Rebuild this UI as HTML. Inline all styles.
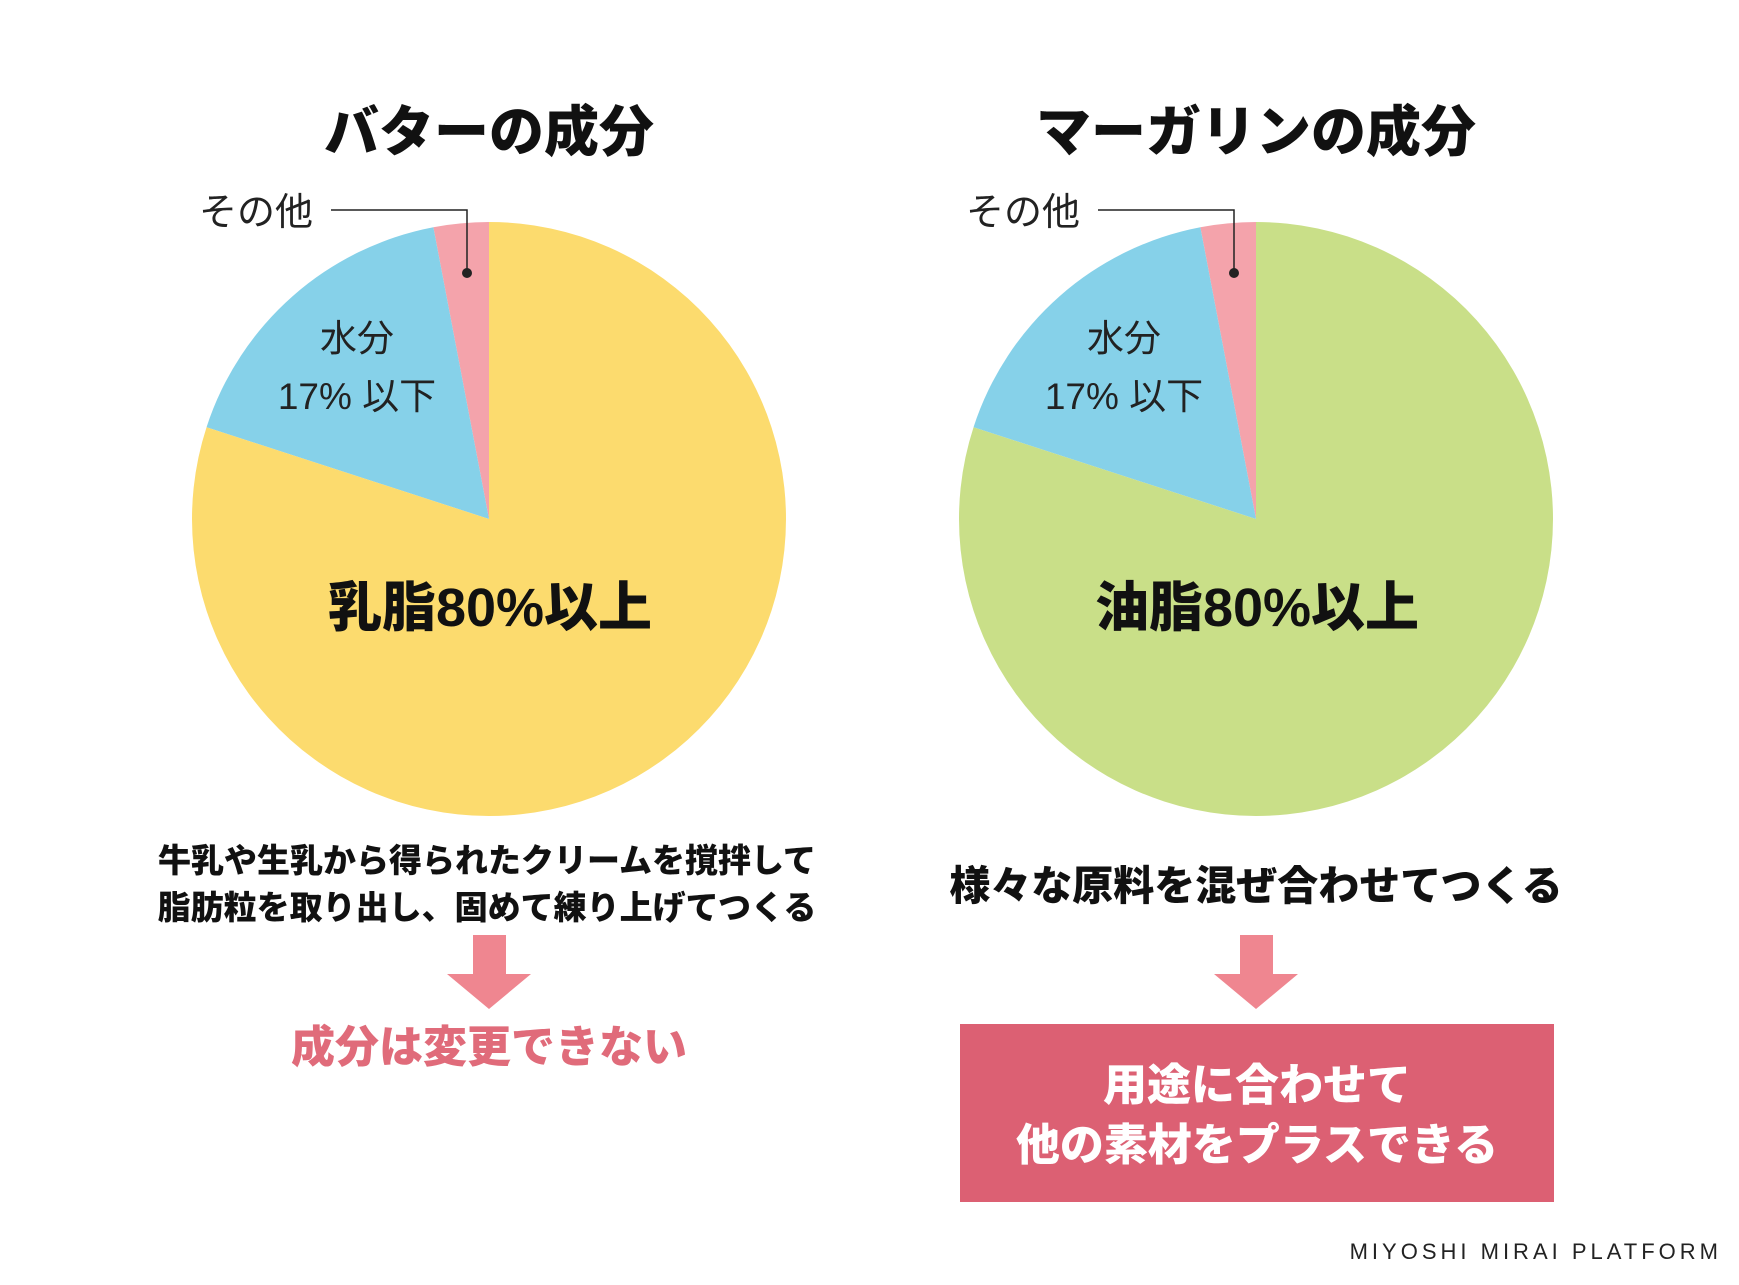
<!DOCTYPE html>
<html><head><meta charset="utf-8"><style>
body{margin:0;background:#fff;}
svg text{font-family:"Liberation Sans","Noto Sans CJK JP",sans-serif;}
</style></head><body>
<svg width="1739" height="1280" viewBox="0 0 1739 1280">
<g id="pies"></g>
<text x="489" y="151" text-anchor="middle" font-size="55" font-weight="900" fill="#111">バターの成分</text>
<text x="1256" y="151" text-anchor="middle" font-size="55" font-weight="900" fill="#111">マーガリンの成分</text>
<script>
const categories=["fat","water","other"];
const butterValues=[80,17,3];
const margarineValues=[80,17,3];
const colorsB=["#fcdb6e","#86d1e9","#f4a3ab"];
const colorsM=["#c9df88","#86d1e9","#f4a3ab"];
const ns="http://www.w3.org/2000/svg";
const g=document.getElementById('pies');
function pie(cx,cy,r,vals,cols,name){
  const tot=vals.reduce((a,b)=>a+b,0);
  // slices go counterclockwise from 12 o'clock: other, water, then fat
  let a0=0;
  const order=[2,1,0];
  order.forEach(i=>{
    const a1=a0+vals[i]/tot*2*Math.PI;
    const x0=cx-r*Math.sin(a0),y0=cy-r*Math.cos(a0);
    const x1=cx-r*Math.sin(a1),y1=cy-r*Math.cos(a1);
    const large=(a1-a0)>Math.PI?1:0;
    const p=document.createElementNS(ns,'path');
    p.setAttribute('d',`M${cx},${cy}L${x0},${y0}A${r},${r} 0 ${large} 0 ${x1},${y1}Z`);
    p.setAttribute('fill',cols[i]);
    
    
    g.appendChild(p);
    a0=a1;
  });
}
pie(489,519,297,butterValues,colorsB,'butter');
pie(1256,519,297,margarineValues,colorsM,'margarine');
</script>
<g>
<text x="256" y="225" text-anchor="middle" font-size="38" fill="#222">その他</text>
<polyline points="331,210 467,210 467,273" fill="none" stroke="#222" stroke-width="1.5"/>
<circle cx="467" cy="273" r="5" fill="#222"/>
<text x="357" y="351" text-anchor="middle" font-size="37" fill="#222">水分</text>
<text x="357" y="409" text-anchor="middle" font-size="37" fill="#222">17% 以下</text>
<text x="490" y="626" text-anchor="middle" font-size="54" font-weight="900" fill="#111">乳脂80%以上</text>
</g>
<g>
<text x="1023" y="225" text-anchor="middle" font-size="38" fill="#222">その他</text>
<polyline points="1098,210 1234,210 1234,273" fill="none" stroke="#222" stroke-width="1.5"/>
<circle cx="1234" cy="273" r="5" fill="#222"/>
<text x="1124" y="351" text-anchor="middle" font-size="37" fill="#222">水分</text>
<text x="1124" y="409" text-anchor="middle" font-size="37" fill="#222">17% 以下</text>
<text x="1257" y="626" text-anchor="middle" font-size="54" font-weight="900" fill="#111">油脂80%以上</text>
</g>
<text x="487" y="872" text-anchor="middle" font-size="33" font-weight="900" fill="#111">牛乳や生乳から得られたクリームを撹拌して</text>
<text x="487" y="919" text-anchor="middle" font-size="33" font-weight="900" fill="#111">脂肪粒を取り出し、固めて練り上げてつくる</text>
<text x="1256" y="900" text-anchor="middle" font-size="41" font-weight="900" fill="#111">様々な原料を混ぜ合わせてつくる</text>
<polygon points="473,935 506,935 506,974 531,974 489,1009 447,974 473,974" fill="#ef8690"/>
<polygon points="1240,935 1273,935 1273,974 1298,974 1256,1009 1214,974 1240,974" fill="#ef8690"/>
<text x="489" y="1062" text-anchor="middle" font-size="44" font-weight="900" fill="#e06b7a">成分は変更できない</text>
<rect x="960" y="1024" width="594" height="178" fill="#dc6073"/>
<text x="1257" y="1100" text-anchor="middle" font-size="44" font-weight="900" fill="#fff">用途に合わせて</text>
<text x="1257" y="1160" text-anchor="middle" font-size="44" font-weight="900" fill="#fff">他の素材をプラスできる</text>
<text x="1722" y="1259" text-anchor="end" font-size="22" letter-spacing="4" fill="#222">MIYOSHI MIRAI PLATFORM</text>
</svg>
</body></html>
